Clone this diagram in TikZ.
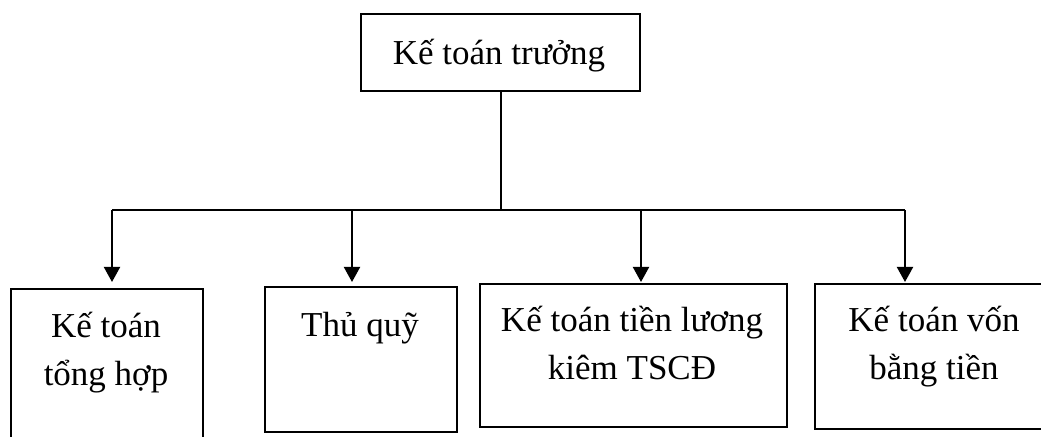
\documentclass[tikz,border=0pt]{standalone}
\usepackage{fontspec}
\setmainfont{Liberation Serif}
\usetikzlibrary{arrows.meta,positioning,calc}

\begin{document}
\begin{tikzpicture}[x=0.5pt,y=-0.5pt,>={Triangle[length=7.5pt,width=8pt]},line width=1pt,
  font=\fontsize{17.5}{24}\selectfont,
  box/.style={draw,rectangle,inner sep=0pt,anchor=north west},
  txt/.style={anchor=base,align=center,inner sep=0pt}]
  \useasboundingbox (0,0) rectangle (1041,437);
  \clip (0,0) rectangle (1041,437);
  % boxes
  \node[box,minimum width=139.5pt,minimum height=38.5pt] (ktt) at (360,13) {};
  \node[box,minimum width=96pt,minimum height=100pt] (b1) at (10,288) {};
  \node[box,minimum width=96pt,minimum height=72.5pt] (b2) at (264,286) {};
  \node[box,minimum width=153.5pt,minimum height=71.5pt] (b3) at (479,283) {};
  \node[box,minimum width=130pt,minimum height=72.5pt] (b4) at (814,283) {};
  % texts (base = last line)
  \node[txt] (t0) at (499,65) {Kế toán trưởng};
  \node[txt] (t1) at (106,386) {Kế toán\\tổng hợp};
  \node[txt] (t2) at (360,337) {Thủ quỹ};
  \node[txt] (t3) at (632,380) {Kế toán tiền lương\\kiêm TSCĐ};
  \node[txt] (t4) at (934,380) {Kế toán vốn\\bằng tiền};
  % connectors
  \coordinate (j1) at (112,210);
  \coordinate (j2) at (352,210);
  \coordinate (j3) at (641,210);
  \coordinate (j4) at (905,210);
  \draw (ktt.south) -- (ktt.south |- j1);
  \draw (j1) -- (j4);
  \draw[->,shorten >=3pt] (j1) -- (j1 |- b1.north);
  \draw[->,shorten >=2pt] (j2) -- (j2 |- b2.north);
  \draw[->,shorten >=0.5pt] (j3) -- (j3 |- b3.north);
  \draw[->,shorten >=0.5pt] (j4) -- (j4 |- b4.north);
\end{tikzpicture}
\end{document}
